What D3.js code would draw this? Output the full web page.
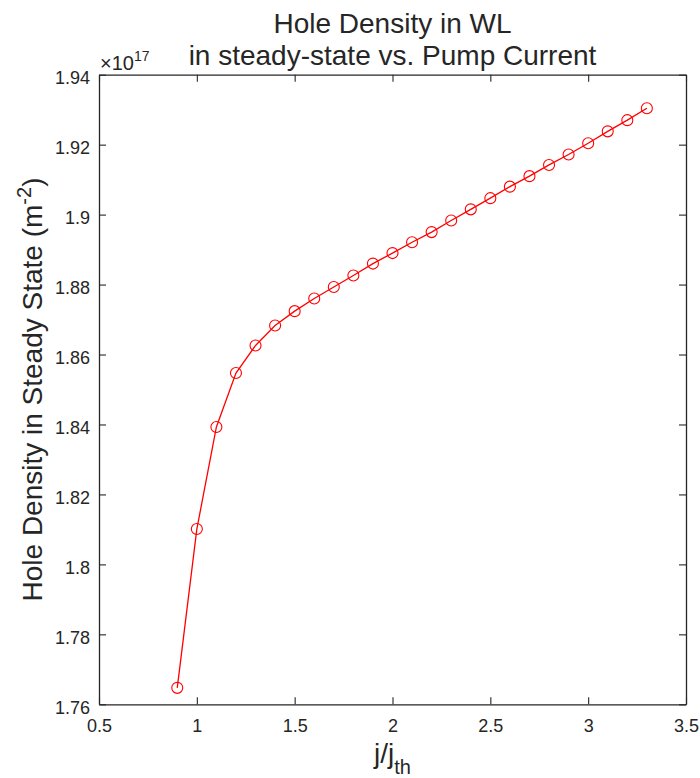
<!DOCTYPE html>
<html>
<head>
<meta charset="utf-8">
<script src="https://cdn.jsdelivr.net/npm/d3@7"></script>
<style>
  body { margin: 0; background: #fff; }
  text { font-family: "Liberation Sans", Arial, Helvetica, sans-serif; fill: #262626; }
</style>
</head>
<body>
<div id="chart"></div>
<script>
// pump current ratio j/j_th
var current = [0.9, 1.0, 1.1, 1.2, 1.3, 1.4, 1.5, 1.6, 1.7, 1.8, 1.9, 2.0, 2.1, 2.2, 2.3, 2.4, 2.5, 2.6, 2.7, 2.8, 2.9, 3.0, 3.1, 3.2, 3.3];
// hole density, in units of 1e17 m^-2
var density = [1.7647, 1.8101, 1.8393, 1.8547, 1.8626, 1.8683, 1.8724, 1.8760, 1.8793, 1.8826, 1.8860, 1.8890, 1.8921, 1.8950, 1.8983,
  1.9015, 1.9047, 1.9080, 1.9110, 1.9142, 1.9172, 1.9204, 1.9238, 1.9270, 1.9304];
var xTicks = [0.5, 1, 1.5, 2, 2.5, 3, 3.5];
var yTicks = [1.76, 1.78, 1.8, 1.82, 1.84, 1.86, 1.88, 1.9, 1.92, 1.94];

var W = 700, H = 778;
var margin = {top: 74.7, right: 14, bottom: 73.7, left: 99};
var axisColor = "#262626";

var svg = d3.select("#chart").append("svg")
  .attr("width", W).attr("height", H);

var x = d3.scaleLinear().domain([0.5, 3.5]).range([margin.left, W - margin.right]);
var y = d3.scaleLinear().domain([1.76, 1.94]).range([H - margin.bottom, margin.top]);

var fmt = function(d){ return String(+d.toFixed(2)); };

// bottom axis, ticks pointing inward
var gx = svg.append("g")
  .attr("transform", "translate(0," + y.range()[0] + ")")
  .call(d3.axisBottom(x).tickValues(xTicks).tickFormat(fmt).tickSizeInner(-7).tickSizeOuter(0).tickPadding(15));
// top axis (box)
var gxt = svg.append("g")
  .attr("transform", "translate(0," + y.range()[1] + ")")
  .call(d3.axisTop(x).tickValues(xTicks).tickFormat("").tickSizeInner(-7).tickSizeOuter(0));
// left axis
var gy = svg.append("g")
  .attr("transform", "translate(" + x.range()[0] + ",0)")
  .call(d3.axisLeft(y).tickValues(yTicks).tickFormat(fmt).tickSizeInner(-7).tickSizeOuter(0).tickPadding(9));
// right axis (box)
var gyr = svg.append("g")
  .attr("transform", "translate(" + x.range()[1] + ",0)")
  .call(d3.axisRight(y).tickValues(yTicks).tickFormat("").tickSizeInner(-7).tickSizeOuter(0));

[gx, gxt, gy, gyr].forEach(function(g){
  g.select(".domain").attr("stroke", axisColor).attr("stroke-width", 1.3);
  g.selectAll(".tick line").attr("stroke", axisColor).attr("stroke-width", 1.1);
  g.selectAll(".tick text").attr("font-size", 18).attr("fill", axisColor)
    .style("font-family", '"Liberation Sans", Arial, sans-serif');
});
gy.selectAll(".tick text").attr("dy", "0.5em");

// exponent label
var ex = svg.append("text")
  .attr("x", x.range()[0] + 1).attr("y", 70)
  .attr("font-size", 20);
ex.append("tspan").text("\u00d710");
ex.append("tspan").attr("font-size", 14).attr("dy", -9).text("17");

// line and markers
var line = d3.line()
  .x(function(d, i){ return x(current[i]); })
  .y(function(d){ return y(d); });

svg.append("path")
  .datum(density)
  .attr("fill", "none")
  .attr("stroke", "#ff0000")
  .attr("stroke-width", 1.3)
  .attr("d", line);

svg.selectAll("circle.pt")
  .data(density)
  .join("circle")
  .attr("class", "pt")
  .attr("cx", function(d, i){ return x(current[i]); })
  .attr("cy", function(d){ return y(d); })
  .attr("r", 5.5)
  .attr("fill", "none")
  .attr("stroke", "#ff0000")
  .attr("stroke-width", 1.1);

// title
var cx = (x.range()[0] + x.range()[1]) / 2;
svg.append("text").attr("x", cx).attr("y", 33).attr("text-anchor", "middle")
  .attr("font-size", 28).text("Hole Density in WL");
svg.append("text").attr("x", cx).attr("y", 65).attr("text-anchor", "middle")
  .attr("font-size", 28).text("in steady-state vs. Pump Current");

// x label
var xl = svg.append("text").attr("x", cx).attr("y", 763).attr("text-anchor", "middle")
  .attr("font-size", 28);
xl.append("tspan").text("j/j");
xl.append("tspan").attr("font-size", 20).attr("dy", 11).text("th");

// y label
var yl = svg.append("text")
  .attr("transform", "translate(42," + ((y.range()[0] + y.range()[1]) / 2) + ") rotate(-90)")
  .attr("text-anchor", "middle")
  .attr("font-size", 28);
yl.append("tspan").text("Hole Density in Steady State (m");
yl.append("tspan").attr("font-size", 20).attr("dy", -11).text("-2");
yl.append("tspan").attr("dy", 11).text(")");
</script>
</body>
</html>
